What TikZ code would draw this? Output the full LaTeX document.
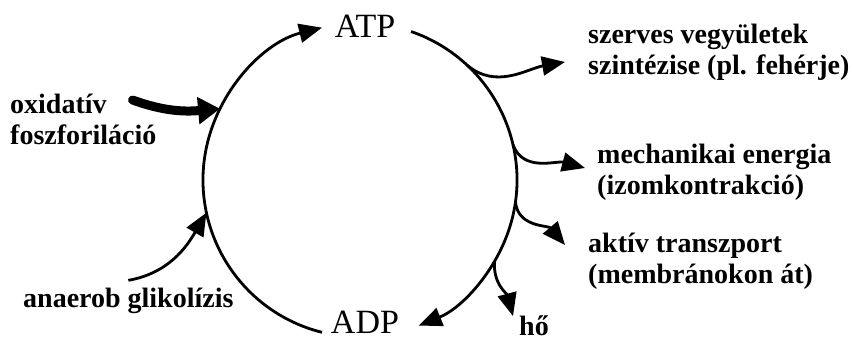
\documentclass[tikz,border=0pt]{standalone}
\usepackage{fontspec}
\setmainfont{Liberation Serif}
\usetikzlibrary{arrows.meta}

\begin{document}
\begin{tikzpicture}[x=1pt, y=1pt,
    flow/.style={line width=2.8pt, -{Triangle[length=23pt, width=19pt]}},
    pool/.style={font=\fontsize{34}{38}\selectfont, inner sep=0pt},
    product/.style={font=\bfseries\fontsize{28}{31}\selectfont, align=left, inner sep=0pt}]

    \useasboundingbox (0,0) rectangle (853,344);

    % ATP / ADP cycle
    \node[circle, minimum size=314pt, inner sep=0pt, outer sep=0pt] (cycle) at (360,164) {};
    \node[pool] (atp) at (365,318) {ATP};
    \node[pool, anchor=base] (adp) at (365,10) {ADP};
    \draw[flow] (cycle.256) arc[start angle=256, end angle=104, radius=157pt];
    \draw[flow] (cycle.71) arc[start angle=71, end angle=-68, radius=157pt];

    % energy sources
    \node[product, anchor=north west] (oxi) at (10,250) {oxidatív\\foszforiláció};
    \node[product, anchor=base west] (glyc) at (23,36) {anaerob glikolízis};
    \draw[line width=9pt, line cap=round, -{Triangle[length=22pt, width=26pt]}]
        ([xshift=-24pt, yshift=-6pt]oxi.north east) to[out=-20, in=185] (cycle.153);
    \draw[flow] ([yshift=8pt]glyc.north) to[out=10, in=-120] (cycle.192);

    % uses of ATP
    \node[product, anchor=west] (szerves) at (588,292) {szerves vegyületek\\szintézise (pl. fehérje)};
    \node[product, anchor=west] (mech) at (597,172) {mechanikai energia\\(izomkontrakció)};
    \node[product, anchor=west] (aktiv) at (588,83) {aktív transzport\\(membránokon át)};
    \node[product, anchor=base west] (ho) at (519,8) {hő};
    \draw[flow] (cycle.47) to[out=-40, in=190] ([xshift=-23pt, yshift=-10pt]szerves.west);
    \draw[flow] (cycle.13) to[out=-70, in=165] ([xshift=-12pt, yshift=4pt]mech.west);
    \draw[flow] (cycle.-8) to[out=-85, in=130] ([xshift=-23pt, yshift=16pt]aktiv.west);
    \draw[flow] (cycle.-31) to[out=-95, in=105] ([xshift=-6pt]ho.north west);

\end{tikzpicture}
\end{document}
